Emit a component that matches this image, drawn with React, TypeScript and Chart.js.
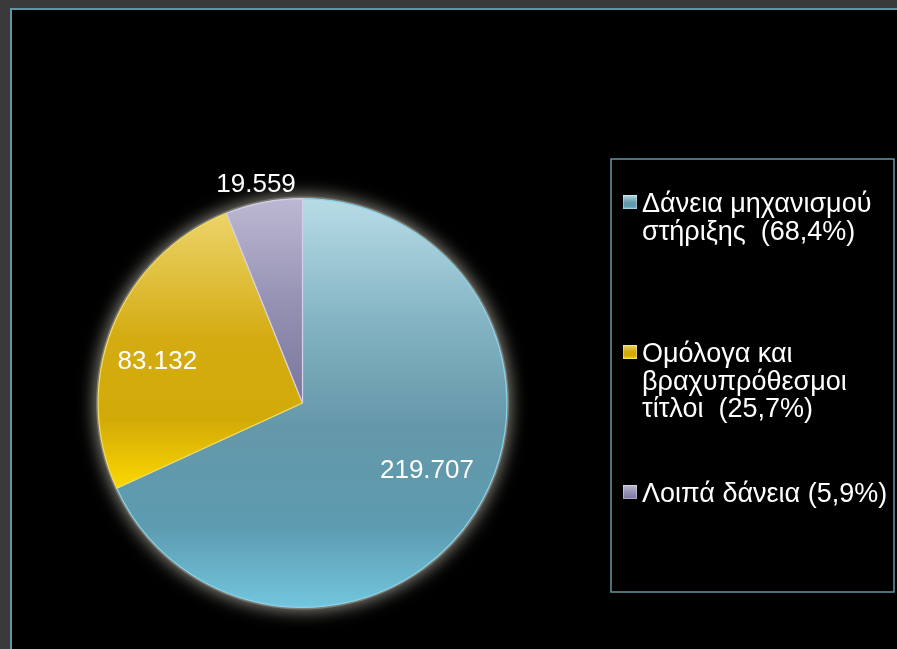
import { useEffect, useRef } from "react";
import { Chart, registerables } from "chart.js";

Chart.register(...registerables);

const categories = [
  "Δάνεια μηχανισμού στήριξης",
  "Ομόλογα και βραχυπρόθεσμοι τίτλοι",
  "Λοιπά δάνεια",
];
const values = [219707, 83132, 19559];
const valueLabels = ["219.707", "83.132", "19.559"];
const legendLines = [
  ["Δάνεια μηχανισμού", "στήριξης  (68,4%)"],
  ["Ομόλογα και", "βραχυπρόθεσμοι", "τίτλοι  (25,7%)"],
  ["Λοιπά δάνεια (5,9%)"],
];

const FONT = '"Liberation Sans", Arial, sans-serif';
const solid = ["#6a9db0", "#d4ae10", "#a09cbc"];
const sliceStops: [number, string][][] = [
  [[0, "#b8dce6"], [0.3, "#84b4c4"], [0.55, "#6598a9"], [0.8, "#5d9bb0"], [1, "#72c6de"]],
  [[0, "#ecd46a"], [0.45, "#d4ac12"], [0.75, "#d2aa08"], [1, "#fcd800"]],
  [[0, "#bdb8d2"], [0.5, "#9692b4"], [1, "#7a769c"]],
];
const borderCols = ["#8ad4ea", "#f4dc60", "#d4d0ec"];
// label placement: radial factor and angle tweak (deg)
const labelRadial = [0.69, 0.74, 1.1];
const labelAngle = [-4.6, -5.4, -1];

function sliceGradient(c: any) {
  const chart = c.chart;
  const area = chart.chartArea;
  const i = c.dataIndex;
  if (!area) return solid[i];
  const cy = (area.top + area.bottom) / 2;
  const r = Math.min(area.width, area.height) / 2;
  const total = values.reduce((a, b) => a + b, 0);
  let start = -Math.PI / 2;
  for (let k = 0; k < i; k++) start += (values[k] / total) * Math.PI * 2;
  const end = start + (values[i] / total) * Math.PI * 2;
  let minY = cy;
  let maxY = cy;
  for (let k = 0; k <= 90; k++) {
    const a = start + ((end - start) * k) / 90;
    const yy = cy + r * Math.sin(a);
    minY = Math.min(minY, yy);
    maxY = Math.max(maxY, yy);
  }
  const g = chart.ctx.createLinearGradient(0, minY, 0, maxY);
  sliceStops[i].forEach(([o, col]) => g.addColorStop(o, col));
  return g;
}

const drawPlugin = {
  id: "drawPlugin",
  beforeDatasetsDraw(chart: any) {
    const meta = chart.getDatasetMeta(0);
    const arc = meta.data[0];
    if (!arc) return;
    const { x, y, outerRadius } = arc.getProps(["x", "y", "outerRadius"], true);
    const ctx = chart.ctx;
    ctx.save();
    ctx.shadowColor = "rgba(170,168,155,0.95)";
    ctx.shadowBlur = 18;
    ctx.fillStyle = "#7c7a72";
    ctx.beginPath();
    ctx.arc(x, y, outerRadius + 2, 0, Math.PI * 2);
    ctx.fill();
    ctx.restore();
  },
  afterDatasetsDraw(chart: any) {
    const meta = chart.getDatasetMeta(0);
    const ctx = chart.ctx;
    ctx.save();
    ctx.font = `26px ${FONT}`;
    ctx.fillStyle = "#ffffff";
    ctx.textAlign = "center";
    ctx.textBaseline = "alphabetic";
    meta.data.forEach((arc: any, i: number) => {
      const p = arc.getProps(["x", "y", "startAngle", "endAngle", "outerRadius"], true);
      const mid = (p.startAngle + p.endAngle) / 2 + (labelAngle[i] * Math.PI) / 180;
      const rr = p.outerRadius * labelRadial[i];
      const lx = p.x + rr * Math.cos(mid);
      const ly = p.y + rr * Math.sin(mid);
      ctx.fillText(valueLabels[i], lx, ly + 9);
    });
    ctx.restore();
  },
  afterDraw(chart: any) {
    const ctx = chart.ctx;
    ctx.save();
    ctx.strokeStyle = "#6496a6";
    ctx.lineWidth = 1.5;
    ctx.strokeRect(611, 159, 283, 433);
    const itemTops = [212, 362, 502];
    ctx.font = `27px ${FONT}`;
    ctx.textAlign = "left";
    ctx.textBaseline = "alphabetic";
    legendLines.forEach((lines, i) => {
      const base = itemTops[i];
      const mx = 623;
      const my = base - 17;
      const g = ctx.createLinearGradient(0, my, 0, my + 14);
      sliceStops[i].forEach(([o, col]) => g.addColorStop(o, col));
      ctx.fillStyle = g;
      ctx.fillRect(mx, my, 14, 14);
      ctx.strokeStyle = "rgba(255,255,255,0.35)";
      ctx.lineWidth = 1;
      ctx.strokeRect(mx + 0.5, my + 0.5, 13, 13);
      ctx.fillStyle = "#ffffff";
      lines.forEach((t, j) => {
        ctx.fillText(t, 642, base + j * 27.5);
      });
    });
    ctx.restore();
  },
};

export default function App() {
  const ref = useRef<HTMLCanvasElement | null>(null);
  useEffect(() => {
    if (!ref.current) return;
    const chart = new Chart(ref.current, {
      type: "pie",
      data: {
        labels: categories,
        datasets: [
          {
            data: values,
            backgroundColor: sliceGradient as any,
            borderColor: borderCols,
            borderWidth: 1.2,
          },
        ],
      },
      options: {
        animation: false,
        responsive: false,
        devicePixelRatio: 1,
        rotation: 0,
        layout: { padding: { left: 97, right: 389, top: 198, bottom: 41 } },
        plugins: {
          legend: { display: false },
          tooltip: { enabled: false },
        },
      },
      plugins: [drawPlugin],
    });
    return () => chart.destroy();
  }, []);
  return (
    <div
      style={{
        position: "fixed",
        left: 0,
        top: 0,
        width: 897,
        height: 649,
        background: "#3a3a3a",
        overflow: "hidden",
      }}
    >
      <div
        style={{
          position: "absolute",
          left: 10,
          top: 8,
          width: 900,
          height: 660,
          background: "#000",
          borderLeft: "2px solid #5e96a6",
          borderTop: "2px solid #5e96a6",
        }}
      />
      <canvas
        ref={ref}
        width={897}
        height={649}
        style={{ position: "absolute", left: 0, top: 0, width: 897, height: 649 }}
      />
    </div>
  );
}
